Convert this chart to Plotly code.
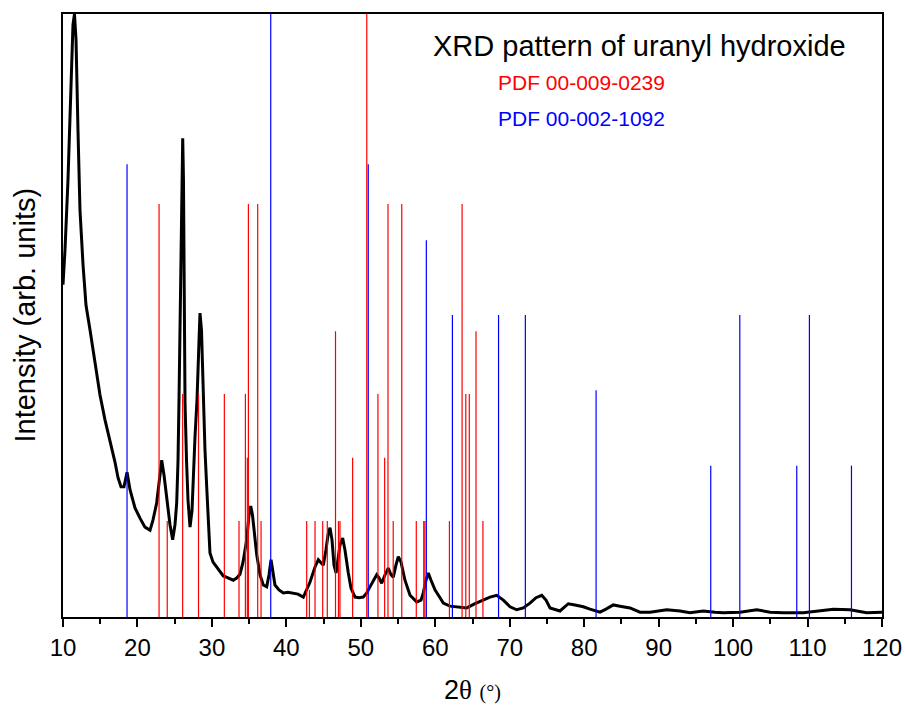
import plotly.graph_objects as go

# XRD pattern (2theta in degrees, intensity in arb. units)
two_theta = [10.0, 10.27, 10.67, 11.07, 11.34, 11.54, 11.75, 12.01, 12.28, 12.69, 13.09, 13.63, 14.30, 14.97,
             15.64, 16.31, 16.98, 17.39, 17.79, 18.19, 18.60, 19.00, 19.67, 20.34, 21.01, 21.69, 22.09, 22.58,
             22.89, 23.26, 23.57, 23.93, 24.37, 24.73, 25.04, 25.27, 25.45, 25.58, 25.71, 25.85, 25.98, 26.08,
             26.18, 26.25, 26.39, 26.59, 26.79, 27.06, 27.33, 27.73, 28.00, 28.27, 28.40, 28.60, 28.84, 29.07,
             29.30, 29.54, 29.74, 30.15, 30.64, 31.53, 32.16, 32.87, 33.37, 33.77, 34.18, 34.67, 34.98, 35.21,
             35.45, 35.72, 36.02, 36.46, 36.90, 37.36, 37.67, 37.94, 38.20, 38.47, 39.01, 39.59, 40.22, 40.93,
             41.56, 42.28, 42.73, 43.18, 43.85, 44.29, 44.65, 44.96, 45.32, 45.59, 45.86, 46.13, 46.40, 46.67,
             46.93, 47.20, 47.56, 47.87, 48.32, 48.68, 49.22, 49.76, 50.33, 50.79, 51.23, 51.70, 52.13, 52.44,
             52.80, 53.25, 53.69, 54.05, 54.36, 54.72, 55.03, 55.40, 55.93, 56.61, 57.51, 58.08, 58.39, 58.75,
             59.06, 59.43, 59.96, 60.64, 61.08, 61.98, 62.88, 64.22, 65.34, 66.45, 67.35, 68.25, 69.14, 70.04,
             70.94, 71.83, 72.72, 73.53, 74.30, 74.87, 75.41, 76.75, 77.87, 78.77, 79.88, 80.78, 82.12, 82.93,
             83.91, 84.81, 86.15, 87.50, 88.84, 91.08, 92.87, 94.21, 95.99, 97.57, 98.69, 100.93, 103.17, 104.96,
             106.74, 109.43, 111.67, 113.46, 115.70, 117.94, 120.0]
intensity = [55.1, 60.9, 72.5, 89.1, 98.2, 100.0, 95.7, 80.8, 67.5, 58.4, 51.7, 47.6, 41.8, 36.8,
             32.7, 29.4, 25.7, 23.1, 21.6, 21.6, 24.0, 21.1, 18.1, 16.4, 14.9, 14.4, 16.1, 18.9,
             22.7, 26.0, 23.5, 19.9, 15.3, 12.8, 15.3, 18.9, 26.0, 36.0, 49.3, 60.5, 72.5, 79.4,
             72.5, 49.3, 35.5, 26.0, 19.4, 14.9, 17.7, 29.9, 36.0, 45.9, 50.4, 47.6, 35.5, 27.7,
             21.6, 15.3, 10.6, 9.1, 8.3, 6.8, 6.5, 6.1, 6.5, 7.1, 9.1, 12.8, 16.9, 18.4,
             16.9, 13.6, 10.3, 7.0, 5.3, 5.0, 7.0, 9.5, 7.0, 5.3, 4.5, 4.0, 4.1, 4.0,
             3.8, 3.3, 4.5, 5.8, 8.3, 9.5, 9.0, 8.6, 11.1, 13.6, 14.8, 12.8, 8.6, 7.3,
             9.5, 11.9, 13.1, 11.1, 7.3, 4.8, 3.3, 3.2, 3.3, 4.0, 5.0, 6.1, 7.0, 6.5,
             5.6, 7.0, 8.1, 7.0, 6.6, 8.6, 10.0, 9.1, 6.1, 3.6, 2.5, 2.8, 4.0, 6.1,
             7.3, 6.1, 4.5, 3.2, 2.3, 1.8, 1.7, 1.5, 2.2, 2.8, 3.3, 3.6, 2.8, 1.7,
             1.2, 1.5, 2.3, 3.2, 3.6, 2.8, 1.5, 1.0, 2.2, 2.0, 1.7, 1.3, 0.8, 1.3,
             2.0, 1.8, 1.5, 0.8, 0.8, 1.2, 1.0, 0.7, 1.0, 0.8, 0.7, 0.8, 1.2, 0.8,
             0.7, 0.7, 1.0, 1.3, 1.2, 0.7, 0.8]

# PDF 00-009-0239 reference lines (red)
pdf_red_pos = [22.9, 24.0, 26.07, 28.2, 31.67, 33.64, 34.5, 34.76, 34.9, 36.15, 36.6, 42.73, 43.1, 43.85,
               44.88, 45.5, 46.6, 47.0, 47.2, 48.9, 50.8, 52.3, 53.2, 53.65, 54.35, 55.5, 57.45, 58.45,
               58.6, 61.9, 63.6, 64.1, 64.57, 65.47, 66.4]
pdf_red_int = [68.5, 15.9, 37.0, 37.0, 37.0, 15.9, 37.0, 26.4, 68.5, 68.5, 15.9, 15.9, 4.5, 15.9,
               15.9, 15.9, 47.4, 15.9, 15.9, 26.4, 100.0, 37.0, 26.4, 68.5, 15.9, 68.5, 15.9, 15.9,
               15.9, 15.9, 68.5, 37.0, 37.0, 47.4, 15.9]

# PDF 00-002-1092 reference lines (blue)
pdf_blue_pos = [18.6, 37.9, 51.0, 58.8, 62.3, 68.5, 72.1, 81.6, 97.0, 100.9, 108.55, 110.25, 115.9]
pdf_blue_int = [75.1, 100.0, 75.1, 62.5, 50.1, 50.1, 50.1, 37.6, 25.1, 50.1, 25.1, 50.1, 25.1]

x_ticks = [10, 20, 30, 40, 50, 60, 70, 80, 90, 100, 110, 120]


def sticks(pos, val):
    xs, ys = [], []
    for p, v in zip(pos, val):
        xs += [p, p, None]
        ys += [0, v, None]
    return xs, ys


fig = go.Figure()
fig.add_trace(go.Scatter(x=two_theta, y=intensity, mode="lines",
                         line=dict(color="black", width=3), showlegend=False))
rx, ry = sticks(pdf_red_pos, pdf_red_int)
fig.add_trace(go.Scatter(x=rx, y=ry, mode="lines", line=dict(color="#ff0000", width=1.2),
                         showlegend=False))
bx, by = sticks(pdf_blue_pos, pdf_blue_int)
fig.add_trace(go.Scatter(x=bx, y=by, mode="lines", line=dict(color="#0000ff", width=1.2),
                         showlegend=False))

font_family = "Liberation Sans, Arial, sans-serif"

fig.update_layout(
    width=905, height=707,
    margin=dict(l=63, r=23, t=14, b=90, autoexpand=False),
    plot_bgcolor="white", paper_bgcolor="white",
    font=dict(family=font_family, color="black"),
    showlegend=False,
)
fig.update_xaxes(
    range=[10, 120], tickvals=x_ticks, ticktext=[str(t) for t in x_ticks],
    ticks="outside", ticklen=8, tickwidth=2, tickcolor="black",
    minor=dict(dtick=5, tick0=5, ticks="outside", ticklen=5, tickwidth=2, tickcolor="black"),
    showline=True, linewidth=2, linecolor="black", mirror=True,
    showgrid=False, zeroline=False,
    tickfont=dict(size=24, family=font_family),
)
fig.update_yaxes(
    range=[0, 100], showticklabels=False, ticks="",
    showline=True, linewidth=2, linecolor="black", mirror=True,
    showgrid=False, zeroline=False,
)

fig.add_annotation(xref="paper", yref="paper", x=-0.0476, y=0.5, text="Intensity (arb. units)",
                   textangle=-90, showarrow=False, xanchor="center", yanchor="middle",
                   font=dict(size=29, family=font_family, color="black"))
fig.add_annotation(xref="paper", yref="paper", x=0.5, y=-0.121,
                   text=("2<span style='font-family:Liberation Serif'>θ</span> "
                         "<span style='font-family:Liberation Serif;font-size:20px'>(°)</span>"),
                   showarrow=False, xanchor="center", yanchor="middle",
                   font=dict(size=27, family=font_family, color="black"))
fig.add_annotation(xref="paper", yref="paper", x=0.7045, y=0.947,
                   text="XRD pattern of uranyl hydroxide", showarrow=False,
                   xanchor="center", yanchor="middle",
                   font=dict(size=29, family=font_family, color="black"))
fig.add_annotation(xref="paper", yref="paper", x=0.6325, y=0.8856,
                   text="PDF 00-009-0239", showarrow=False,
                   xanchor="center", yanchor="middle",
                   font=dict(size=21, family=font_family, color="#ff0000"))
fig.add_annotation(xref="paper", yref="paper", x=0.6325, y=0.826,
                   text="PDF 00-002-1092", showarrow=False,
                   xanchor="center", yanchor="middle",
                   font=dict(size=21, family=font_family, color="#0000ff"))

fig.write_html("out.html", config={"displayModeBar": False},
               post_script="document.body.style.margin='0';document.body.style.overflow='hidden';")
